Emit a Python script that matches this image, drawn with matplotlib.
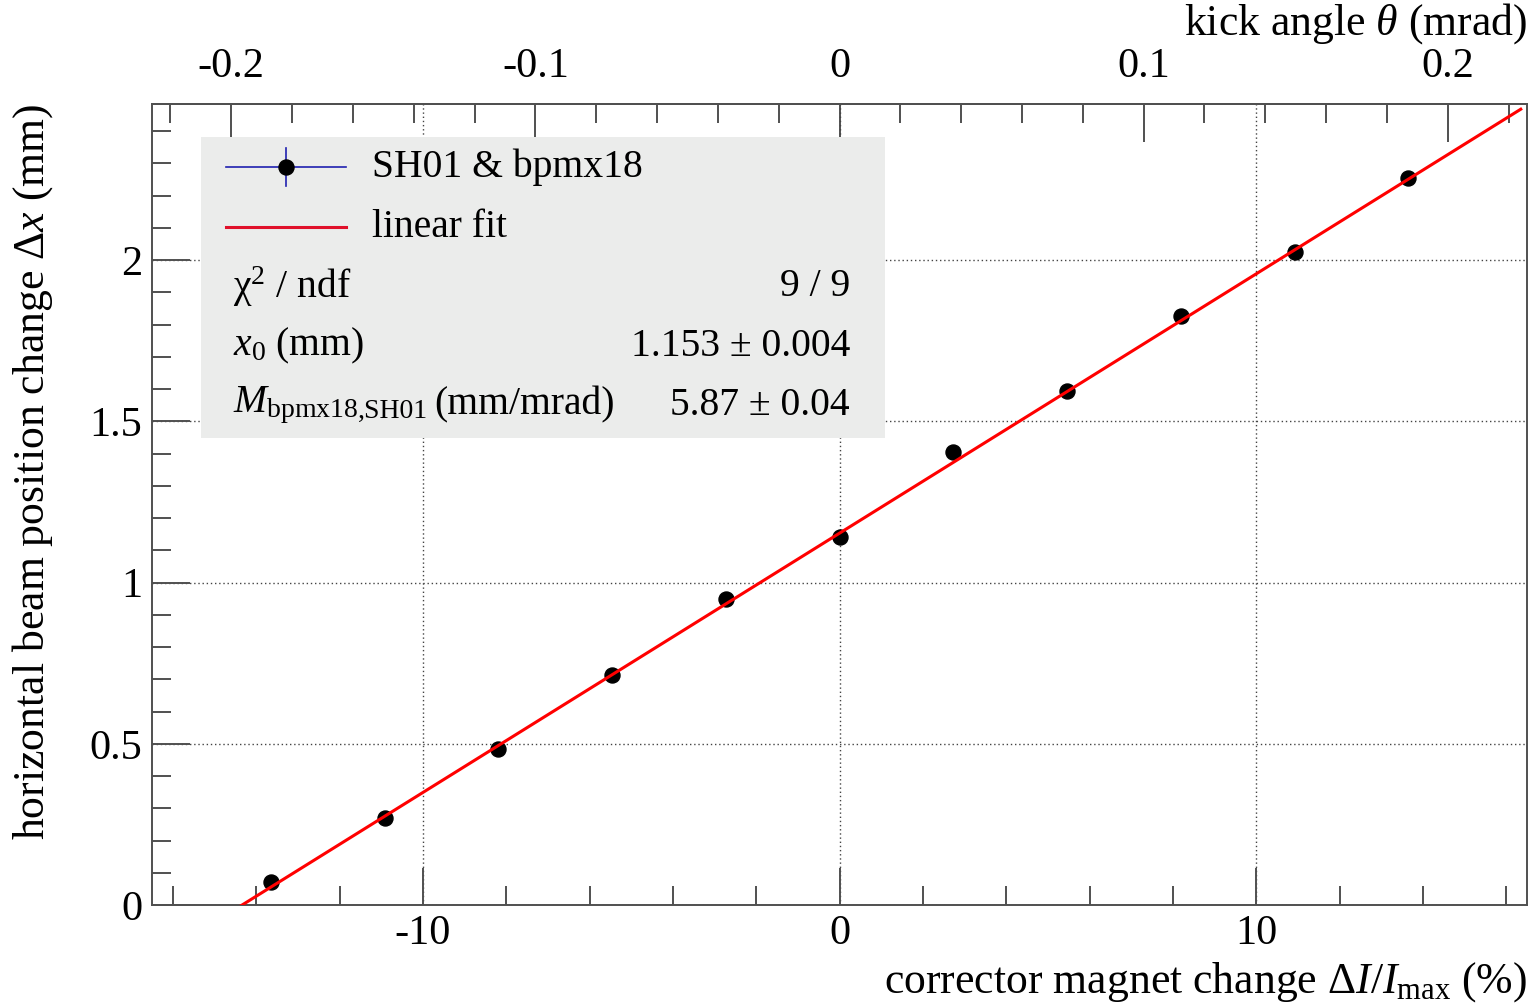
import matplotlib
matplotlib.use("Agg")
import matplotlib.pyplot as plt
from matplotlib.patches import Rectangle
from matplotlib.lines import Line2D
from matplotlib.ticker import MultipleLocator, FixedLocator, FixedFormatter
import numpy as np

plt.rcParams['font.family'] = ['Liberation Serif', 'DejaVu Serif']
plt.rcParams['mathtext.fontset'] = 'custom'
plt.rcParams['mathtext.rm'] = 'Liberation Serif'
plt.rcParams['mathtext.it'] = 'Liberation Serif:italic'
plt.rcParams['mathtext.bf'] = 'Liberation Serif:bold'
plt.rcParams['axes.unicode_minus'] = False

# corrector current scan: dI/Imax (%) vs horizontal position change (mm)
dI = [-13.65, -10.92, -8.19, -5.46, -2.73, 0.0, 2.73, 5.46, 8.19, 10.92, 13.65]
dx = [0.071, 0.270, 0.484, 0.713, 0.949, 1.141, 1.405, 1.594, 1.826, 2.025, 2.254]

# fit result
x0 = 1.153
M = 5.87            # mm/mrad
pct_to_mrad = 0.0137
fit_rows = [('χ$^{2}$ / ndf', '9 / 9'),
            (r'$x_{0}$ (mm)', '1.153 ± 0.004'),
            (r'$M_{\mathrm{bpmx18}}$', '5.87 ± 0.04')]

W, H = 1540, 1005
fig = plt.figure(figsize=(W / 100, H / 100), dpi=100)
ax = fig.add_axes([152 / W, 1 - 905 / H, (1527 - 152) / W, (905 - 104) / H])

def fx(px):
    return px / W

def fy(py):
    return 1 - py / H

fs_tick = 30.5
fs_lab = 31.5
fs_leg = 28.5
spine_c = '#505050'

ax.set_xlim(-16.5, 16.5)
ax.set_ylim(0, 2.484)

xs = np.linspace(-16.5, 16.35, 200)
ax.plot(dI, dx, 'o', color='black', ms=10.8, zorder=4)
ax.plot(xs, x0 + M * pct_to_mrad * xs, color='red', lw=2.2, zorder=5)

ax.set_axisbelow(True)
ax.grid(True, which='major', ls=(0, (1, 2)), color='#444444', lw=1.0)

ax.xaxis.set_major_locator(MultipleLocator(10))
ax.xaxis.set_minor_locator(MultipleLocator(2))
ax.yaxis.set_major_locator(MultipleLocator(0.5))
ax.yaxis.set_minor_locator(MultipleLocator(0.1))
ax.yaxis.set_major_formatter(plt.FuncFormatter(lambda v, p: f'{v:g}'))
ax.xaxis.set_major_formatter(plt.FuncFormatter(lambda v, p: f'{v:g}'))

ax.tick_params(which='both', direction='in', top=False, right=False,
               color=spine_c, width=1.4, labelsize=fs_tick)
ax.tick_params(which='major', length=27)
ax.tick_params(which='minor', length=14)
ax.tick_params(axis='x', pad=7)
ax.tick_params(axis='y', pad=7)
for s in ax.spines.values():
    s.set_color(spine_c)
    s.set_linewidth(1.4)

# kick angle scale on top
top = ax.secondary_xaxis('top', functions=(lambda v: v * pct_to_mrad,
                                           lambda t: t / pct_to_mrad))
top.xaxis.set_major_locator(FixedLocator([-0.2, -0.1, 0, 0.1, 0.2]))
top.xaxis.set_major_formatter(FixedFormatter(['-0.2', '-0.1', '0', '0.1', '0.2']))
top.xaxis.set_minor_locator(MultipleLocator(0.02))
top.tick_params(which='both', direction='in', color=spine_c, width=1.4,
                labelsize=fs_tick, pad=13)
top.tick_params(which='major', length=27)
top.tick_params(which='minor', length=14)
top.spines['top'].set_color(spine_c)
top.spines['top'].set_linewidth(1.4)

fig.text(fx(1527), fy(35), r'kick angle $\theta$ (mrad)', ha='right',
         va='baseline', fontsize=fs_lab)
fig.text(fx(1527), fy(993), r'corrector magnet change $\Delta I/I_{\mathrm{max}}$ (%)',
         ha='right', va='baseline', fontsize=fs_lab)
fig.text(fx(33), fy(104), r'horizontal beam position change $\Delta x$ (mm)',
         rotation=90, ha='center', va='top', fontsize=fs_lab)

# legend / fit statistics box
box = Rectangle((fx(201), fy(438)), fx(885) - fx(201), fy(137) - fy(438),
                transform=fig.transFigure, facecolor='#ebeceb', edgecolor='none',
                zorder=3)
ax.add_patch(box)

fig.add_artist(Line2D([fx(226), fx(346)], [fy(167), fy(167)], color='#2020b0', lw=1.2, zorder=6))
fig.add_artist(Line2D([fx(286), fx(286)], [fy(148), fy(186)], color='#2020b0', lw=1.2, zorder=6))
fig.add_artist(Line2D([fx(286)], [fy(167)], marker='o', color='black', ms=10.8, zorder=7))
fig.add_artist(Line2D([fx(226), fx(346)], [fy(227), fy(227)], color='#e0102a', lw=2.2, zorder=6))
fig.text(fx(372), fy(167), 'SH01 & bpmx18', ha='left', va='center', fontsize=fs_leg, zorder=8)
fig.text(fx(372), fy(227), 'linear fit', ha='left', va='center', fontsize=fs_leg, zorder=8)

row_y = [287, 346, 405]
for (name, val), yy in zip(fit_rows, row_y):
    t = fig.text(fx(233), fy(yy), name, ha='left', va='center', fontsize=fs_leg, zorder=8)
    fig.text(fx(850), fy(yy), val, ha='right', va='center', fontsize=fs_leg, zorder=8)

# the subscript of M continues with ",SH01" followed by the unit
fig.canvas.draw()
bb = t.get_window_extent()
fig.text(bb.x1 / W - 0.5 / W, fy(418), ',SH01', ha='left', va='baseline',
         fontsize=fs_leg * 0.7, zorder=8)
fig.text(fx(434), fy(405), '(mm/mrad)', ha='left', va='center', fontsize=fs_leg, zorder=8)

fig.savefig('out.png', dpi=100)
